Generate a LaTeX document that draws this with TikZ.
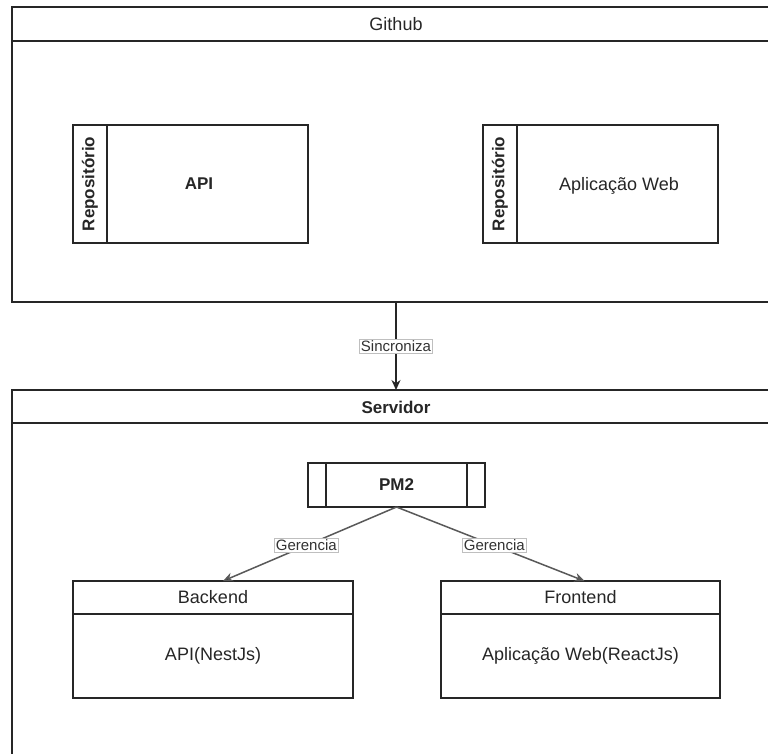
\documentclass[tikz,border=0pt]{standalone}
\usepackage{fontspec}
\setmainfont{Liberation Sans}
\usetikzlibrary{arrows.meta,calc}
\begin{document}
\begin{tikzpicture}[x=1pt,y=-1pt,
  every node/.style={font=\fontsize{18}{21}\selectfont, text=black!85},
  box/.style={draw=black!85, line width=1.3pt, inner sep=0pt, outer sep=0pt, anchor=north west},
  sep/.style={draw=black!85, line width=1.3pt},
  lbl/.style={fill=white, draw=black!25, line width=0.6pt, inner sep=1.5pt, font=\fontsize{15}{17}\selectfont, text=black!80},
  arr/.style={draw=black!85, line width=1.3pt, -{Stealth[length=10pt,width=9pt]}},
  garr/.style={draw=black!65, line width=1.5pt, -{Stealth[length=10pt,width=9pt,fill=black!85]}},
  bold/.style={font=\fontsize{17}{20}\selectfont\bfseries}]
\useasboundingbox (0,0) rectangle (768,753);
\fill[white] (0,0) rectangle (768,753);
\begin{scope}
\clip (0,0) rectangle (768,753);
% Github container
\node[box, minimum width=768pt, minimum height=34pt] (githubhead) at (12,7) {};
\node[box, minimum width=768pt, minimum height=261pt] (github) at (12,41) {};
\node at (396,24) {Github};
% Repos
\node[box, minimum width=235pt, minimum height=118pt] (repoapi) at (73,125) {};
\draw[sep] ([xshift=34pt]repoapi.north west) -- ([xshift=34pt]repoapi.south west);
\node[bold, rotate=90] (repoapilbl) at (90,184) {Repositório};
\node[bold] (apitxt) at (199,184) {API};
\node[box, minimum width=235pt, minimum height=118pt] (repoweb) at (483,125) {};
\draw[sep] ([xshift=34pt]repoweb.north west) -- ([xshift=34pt]repoweb.south west);
\node[bold, rotate=90] (repoweblbl) at (500,184) {Repositório};
\node (webtxt) at (619,186) {Aplicação Web};
% Servidor container
\node[box, minimum width=768pt, minimum height=33pt] (servidorhead) at (12,390) {};
\node[box, minimum width=768pt, minimum height=400pt] (servidor) at (12,423) {};
\node[bold] at (396,407) {Servidor};
% PM2
\node[box, minimum width=177pt, minimum height=44pt] (pm2) at (308,463) {};
\draw[sep] ([xshift=18pt]pm2.north west) -- ([xshift=18pt]pm2.south west);
\draw[sep] ([xshift=-18pt]pm2.north east) -- ([xshift=-18pt]pm2.south east);
\node[bold] at (pm2.center) {PM2};
% Backend
\node[box, minimum width=280pt, minimum height=33pt] (backendhead) at (73,581) {};
\node[box, minimum width=280pt, minimum height=84pt] (backend) at (73,614) {};
\node at (backendhead.center) {Backend};
\node at (backend.center) {API(NestJs)};
% Frontend
\node[box, minimum width=279pt, minimum height=33pt] (frontendhead) at (441,581) {};
\node[box, minimum width=279pt, minimum height=84pt] (frontend) at (441,614) {};
\node at (frontendhead.center) {Frontend};
\node at (frontend.center) {Aplicação Web(ReactJs)};
% connectors
\draw[arr] (github.south) -- (servidorhead.north) node[midway, lbl] {Sincroniza};
\draw[garr] (pm2.south) -- ($(backendhead.north)+(10,0)$) node[pos=0.52, lbl] {Gerencia};
\draw[garr] (pm2.south) -- ($(frontendhead.north)+(4,0)$) node[pos=0.52, lbl] {Gerencia};
\end{scope}
\end{tikzpicture}
\end{document}
